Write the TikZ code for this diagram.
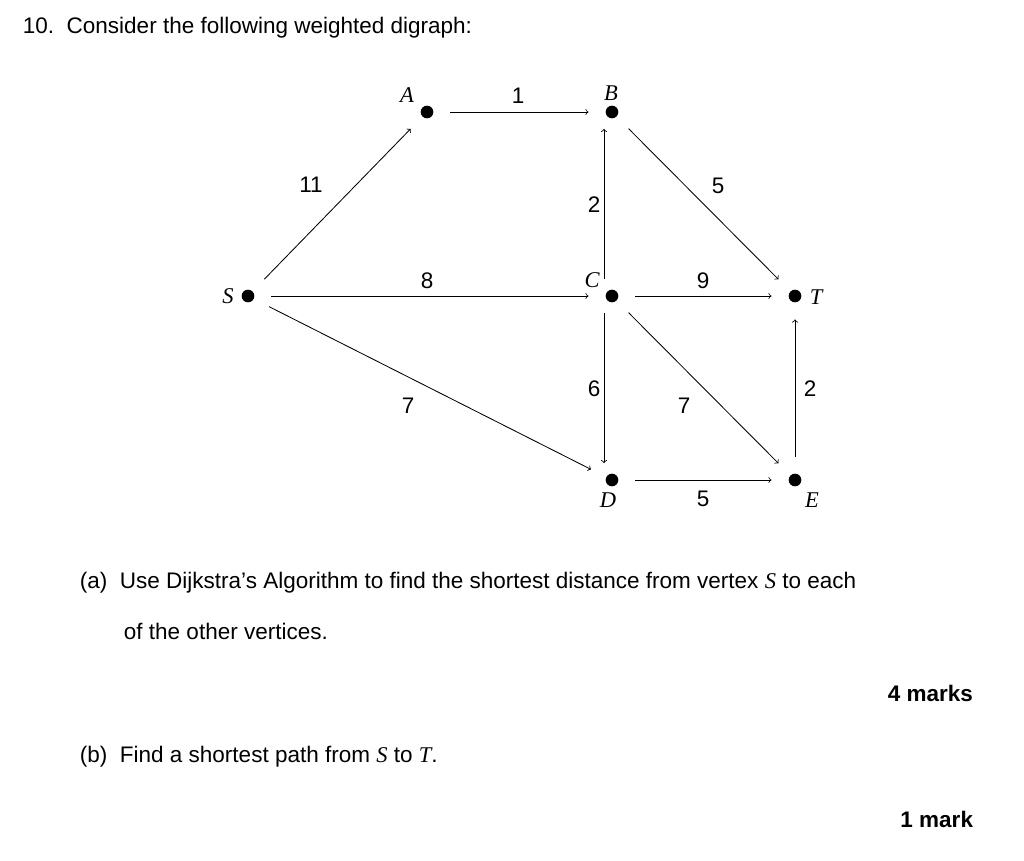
\documentclass[tikz,border=0pt]{standalone}
\usepackage{fontspec}
\setmainfont{Liberation Sans}
\newfontfamily\vxfont{Liberation Serif}
\usetikzlibrary{calc}
\newcommand{\vx}[1]{{\vxfont\itshape #1}}

\begin{document}
\begin{tikzpicture}[x=0.025cm,y=-0.025cm,font=\fontsize{16}{19}\selectfont,
    vert/.style={circle,fill=black,inner sep=0pt,minimum size=9pt},
    edge/.style={->,>=to,semithick,shorten <=12pt,shorten >=12pt},
    lbl/.style={inner sep=0pt}]
        \useasboundingbox (0,0) rectangle (1024,860);
        \node[anchor=west] at (18,28) {10.\ \ Consider the following weighted digraph:};

        % vertices
        \node[vert] (A) at (427,112) {};
        \node[vert] (B) at (612,112) {};
        \node[vert] (S) at (248,296) {};
        \node[vert] (C) at (612,296) {};
        \node[vert] (T) at (795,296) {};
        \node[vert] (D) at (612,480) {};
        \node[vert] (E) at (795,480) {};
        \node[lbl] at (407,95) {\vx{A}};
        \node[lbl] at (611,93) {\vx{B}};
        \node[lbl] at (228,296) {\vx{S}};
        \node[lbl] at (592,280) {\vx{C}};
        \node[lbl] at (816,297) {\vx{T}};
        \node[lbl] at (608,500) {\vx{D}};
        \node[lbl] at (812,500) {\vx{E}};

        % edges
        \draw[edge] (S) -- (A);
        \draw[edge] (A) -- (B);
        \draw[edge] (B) -- (T);
        \draw[edge] ($(C)+(-8,0)$) -- ($(B)+(-8,0)$);
        \draw[edge] (S) -- (C);
        \draw[edge] (C) -- (T);
        \draw[edge] (C) -- (E);
        \draw[edge] ($(C)+(-8,0)$) -- ($(D)+(-8,0)$);
        \draw[edge] (S) -- (D);
        \draw[edge] (D) -- (E);
        \draw[edge] (E) -- (T);

        % weights
        \node[lbl] at (518,96) {1};
        \node[lbl] at (311,185) {11};
        \node[lbl] at (594,205) {2};
        \node[lbl] at (718,186) {5};
        \node[lbl] at (427,281) {8};
        \node[lbl] at (703,281) {9};
        \node[lbl] at (594,389) {6};
        \node[lbl] at (408,406) {7};
        \node[lbl] at (684,406) {7};
        \node[lbl] at (810,389) {2};
        \node[lbl] at (703,499) {5};

        % questions
        \node[anchor=west] at (75,583) {(a)\ \ Use Dijkstra's Algorithm to find the shortest distance from vertex \vx{S} to each};
        \node[anchor=west] at (119,631) {of the other vertices.};
        \node[anchor=east] at (978,693) {\bfseries 4 marks};
        \node[anchor=west] at (75,757) {(b)\ \ Find a shortest path from \vx{S} to \vx{T}.};
        \node[anchor=east] at (978,819) {\bfseries 1 mark};
\end{tikzpicture}
\end{document}
